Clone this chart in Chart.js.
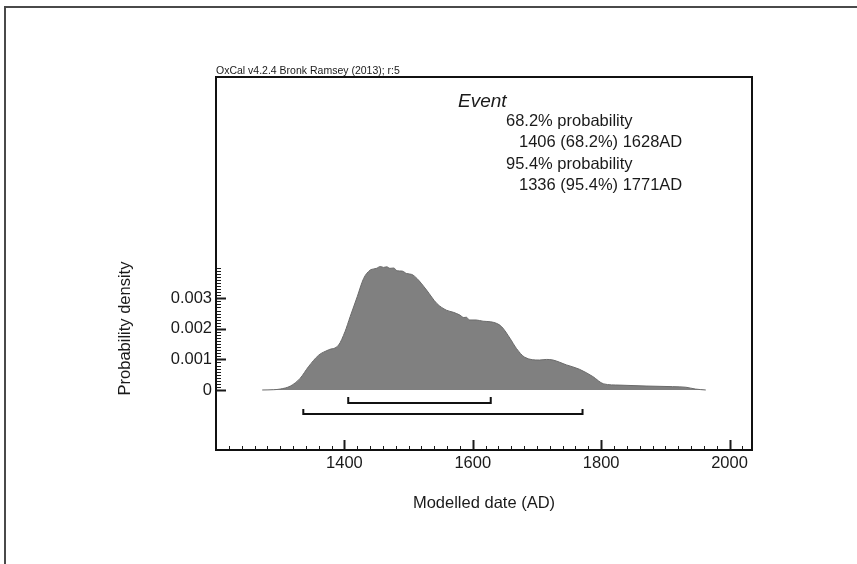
<!DOCTYPE html>
<html>
<head>
<meta charset="utf-8">
<title>Event - modelled date</title>
<script src="https://cdn.jsdelivr.net/npm/chart.js@4.4.1/dist/chart.umd.min.js"></script>
<style>
  html, body { margin: 0; padding: 0; background: #fff; }
  #wrap { position: relative; width: 857px; height: 564px; }
</style>
</head>
<body>
<div id="wrap"><canvas id="eventChart" width="857" height="564"></canvas></div>
<script>
// Posterior density of the Event against modelled date (AD)
var years = [1272, 1290, 1300, 1316, 1331, 1344, 1360, 1375, 1391, 1401,
             1409, 1420, 1430, 1440, 1446, 1450, 1456, 1461, 1466, 1471,
             1477, 1482, 1490, 1497, 1505, 1513, 1528, 1544, 1559, 1570,
             1580, 1586, 1590, 1595, 1605, 1616, 1628, 1637, 1645, 1658,
             1668, 1681, 1704, 1715, 1725, 1746, 1766, 1787, 1804, 1828,
             1870, 1911, 1932, 1947, 1963];
var density = [0, 0.00001, 0.00003, 0.00013, 0.00038, 0.00076, 0.00114, 0.00131, 0.00147, 0.00191,
               0.0024, 0.00305, 0.00365, 0.00392, 0.00396, 0.00398, 0.00404, 0.00401, 0.00403, 0.00398,
               0.00399, 0.0039, 0.00389, 0.00381, 0.00378, 0.00365, 0.00327, 0.00283, 0.00261, 0.00254,
               0.00245, 0.00237, 0.00238, 0.00229, 0.00229, 0.00225, 0.00223, 0.00218, 0.00207, 0.00169,
               0.00136, 0.00107, 0.00098, 0.001, 0.00098, 0.00082, 0.00068, 0.00044, 0.0002, 0.00016,
               0.00013, 0.00011, 0.00009, 0.00003, 0];

// highest posterior density ranges
var range68 = [1406, 1628];
var range95 = [1336, 1771];

var xTicks = [1400, 1600, 1800, 2000];
var yTicks = [0, 0.001, 0.002, 0.003];
var xMinor = { from: 1220, to: 2020, step: 20 };
var yMinor = { from: 0, to: 0.004, step: 0.0001 };

var headerText = "OxCal v4.2.4 Bronk Ramsey (2013); r:5";
var eventName = "Event";
var rangeText = [
  ["68.2% probability", 0],
  ["1406 (68.2%) 1628AD", 1],
  ["95.4% probability", 0],
  ["1336 (95.4%) 1771AD", 1]
];

var FONT = '"Liberation Sans", Arial, Helvetica, sans-serif';
var INK = '#1a1a1a';

// box, inward ticks, range brackets and the text block
var decor = {
  id: 'oxcalDecor',
  afterDraw: function(chart) {
    var ctx = chart.ctx;
    var a = chart.chartArea;
    var xs = chart.scales.x, ys = chart.scales.y;
    ctx.save();

    // page frame
    ctx.fillStyle = '#4a4a4a';
    ctx.fillRect(4, 6, 853, 2);
    ctx.fillRect(4, 6, 2, 558);

    // y ticks pointing into the plot
    ctx.strokeStyle = INK;
    var n = Math.round((yMinor.to - yMinor.from) / yMinor.step);
    for (var i = 0; i <= n; i++) {
      var v = yMinor.from + i * yMinor.step;
      var major = (i % 10 === 0) && v <= yTicks[yTicks.length - 1] + 1e-9;
      var py = Math.round(ys.getPixelForValue(v)) + 0.5;
      ctx.lineWidth = major ? 2 : 1;
      ctx.beginPath();
      ctx.moveTo(a.left, py);
      ctx.lineTo(a.left + (major ? 10 : 5), py);
      ctx.stroke();
    }

    // x ticks pointing up
    for (var yr = xMinor.from; yr <= xMinor.to; yr += xMinor.step) {
      var isMajor = xTicks.indexOf(yr) >= 0;
      var px = Math.round(xs.getPixelForValue(yr)) + 0.5;
      ctx.lineWidth = isMajor ? 2 : 1;
      ctx.beginPath();
      ctx.moveTo(px, a.bottom);
      ctx.lineTo(px, a.bottom - (isMajor ? 10 : 4));
      ctx.stroke();
    }

    // plot box
    ctx.lineWidth = 2;
    ctx.strokeStyle = '#111';
    ctx.strokeRect(a.left, a.top, a.right - a.left, a.bottom - a.top);

    // range brackets under the curve
    var zero = ys.getPixelForValue(0);
    function bracket(r, drop, rise) {
      var x1 = xs.getPixelForValue(r[0]);
      var x2 = xs.getPixelForValue(r[1]);
      var yl = zero + drop;
      ctx.beginPath();
      ctx.moveTo(x1, yl - rise);
      ctx.lineTo(x1, yl);
      ctx.lineTo(x2, yl);
      ctx.lineTo(x2, yl - rise);
      ctx.stroke();
    }
    ctx.lineWidth = 2;
    bracket(range68, 13, 6);
    bracket(range95, 24, 5);

    // header and text block
    ctx.fillStyle = INK;
    ctx.textAlign = 'left';
    ctx.textBaseline = 'alphabetic';
    ctx.font = '10.5px ' + FONT;
    ctx.fillText(headerText, a.left, a.top - 3);

    ctx.font = 'italic 19px ' + FONT;
    ctx.fillText(eventName, 458, 106.5);

    ctx.font = '16.5px ' + FONT;
    for (var k = 0; k < rangeText.length; k++) {
      ctx.fillText(rangeText[k][0], rangeText[k][1] ? 519 : 506, 126 + k * 21.4);
    }

    // y axis title
    ctx.translate(130, 328.5);
    ctx.rotate(-Math.PI / 2);
    ctx.textAlign = 'center';
    ctx.fillText('Probability density', 0, 0);

    ctx.restore();
  }
};

var tickFont = { family: FONT, size: 16.5 };

var eventChart = new Chart(document.getElementById('eventChart'), {
  type: 'line',
  data: {
    datasets: [{
      label: eventName,
      data: years.map(function(yr, i) { return { x: yr, y: density[i] }; }),
      fill: 'origin',
      backgroundColor: '#808080',
      borderColor: '#6a6a6a',
      borderWidth: 1,
      pointRadius: 0,
      cubicInterpolationMode: 'monotone'
    }]
  },
  options: {
    responsive: false,
    animation: false,
    devicePixelRatio: 1,
    layout: { padding: { top: 77, right: 105, bottom: 0, left: 0 } },
    plugins: {
      legend: { display: false },
      tooltip: { enabled: false }
    },
    scales: {
      x: {
        type: 'linear',
        min: 1200,
        max: 2035,
        grid: { display: false, drawTicks: false },
        border: { display: false },
        afterBuildTicks: function(s) { s.ticks = xTicks.map(function(v) { return { value: v }; }); },
        afterFit: function(s) { s.height = 114; },
        ticks: {
          padding: 4, autoSkip: false, maxRotation: 0, color: INK, font: tickFont,
          callback: function(v) { return String(v); }
        },
        title: {
          display: true, text: 'Modelled date (AD)', color: INK, font: tickFont,
          padding: { top: 0, bottom: 51 }
        }
      },
      y: {
        type: 'linear',
        min: -0.001963,
        max: 0.010239,
        grid: { display: false, drawTicks: false },
        border: { display: false },
        afterBuildTicks: function(s) { s.ticks = yTicks.map(function(v) { return { value: v }; }); },
        afterFit: function(s) { s.width = 216; },
        ticks: {
          padding: 4, color: INK, font: tickFont,
          callback: function(v) { return v === 0 ? '0' : v.toFixed(3); }
        }
      }
    }
  },
  plugins: [decor]
});
</script>
</body>
</html>
